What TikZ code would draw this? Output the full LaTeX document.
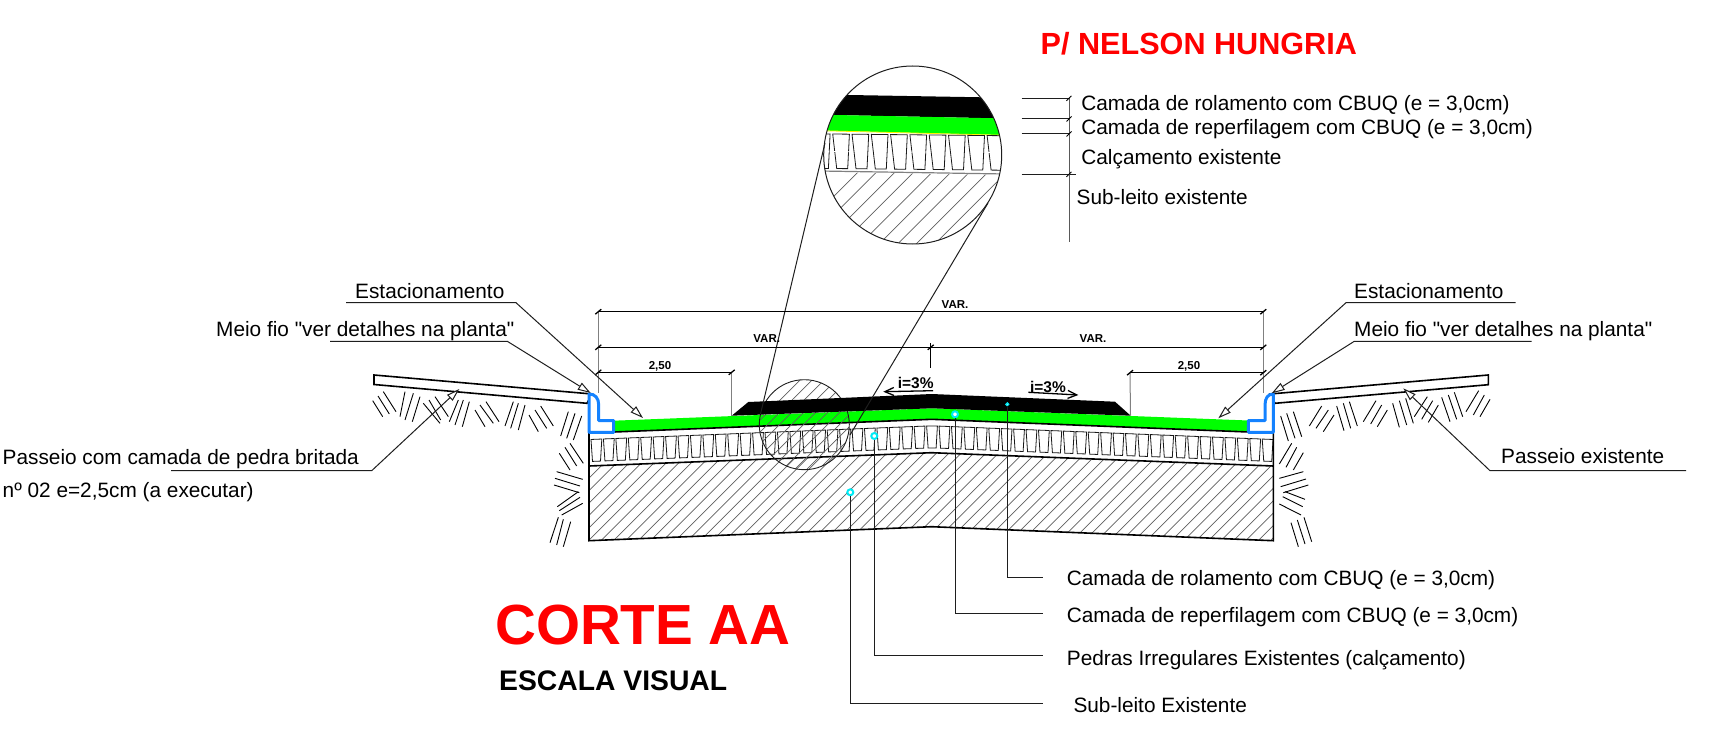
\documentclass[tikz,border=0pt]{standalone}
\usepackage{fontspec}
\setmainfont{Liberation Sans}
\newfontfamily\plainsans{Liberation Sans}
\usetikzlibrary{arrows.meta}
\definecolor{roadgreen}{RGB}{0,255,0}
\definecolor{curbblue}{RGB}{20,130,255}
\definecolor{hatchgray}{RGB}{95,95,95}
\definecolor{leadgray}{RGB}{30,30,30}
\definecolor{ringcyan}{RGB}{0,235,245}
\tikzset{
  declare function={roady(\t)=419.3+abs(\t-931.7)*0.0401;},
  lab/.style={anchor=base west,inner sep=0pt,yshift=-0.6pt,font=\plainsans\fontsize{20.8}{21}\selectfont},
  dimlab/.style={anchor=base,inner sep=0pt,font=\bfseries\fontsize{11.5}{12}\selectfont},
  slopelab/.style={anchor=base,inner sep=0pt,font=\bfseries\fontsize{15.5}{15}\selectfont},
  hatchline/.style={draw=hatchgray,line width=0.7pt},
  soil/.style={draw=black,line width=0.9pt},
  heavy/.style={draw=black,line width=1.6pt},
  lead/.style={draw=leadgray,line width=1pt},
  leadarrow/.style={lead,-{Triangle[open,length=13pt,width=8pt,fill=white]}},
  dimline/.style={draw=black,line width=1.4pt},
  extline/.style={draw=gray,line width=1pt},
  paver/.style={draw=black!90,line width=0.8pt},
  curb/.style={draw=curbblue,line width=3pt,fill=white,line join=round},
  slopearrow/.style={draw=black,line width=1.3pt,-{Straight Barb[length=9pt,width=8pt]}},
  target/.style={draw=ringcyan,line width=2pt,fill=white,circle,inner sep=0pt,minimum size=6pt},
  targetsmall/.style={draw=ringcyan,line width=1.2pt,fill=white,circle,inner sep=0pt,minimum size=3pt},
}
\newcommand{\dimtick}[2]{\draw[line width=1.3pt] ({#1-3},{#2+2.5}) -- ({#1+3},{#2-2.5});}
\begin{document}
\begin{tikzpicture}[x=1pt,y=-1pt]
\useasboundingbox (0,0) rectangle (1719,741);
% footpaths
\draw[heavy,line join=miter] (374,375) -- (592,394) -- (587,403.3) -- (374,384.5) -- cycle;
\draw[heavy,line join=miter] (1488.3,375) -- (1270,394) -- (1275,403.3) -- (1488.3,384.7) -- cycle;
% soil hatching, left
\foreach \a/\b/\c/\d in {68/122/98/170,84/108/118/162,100/95/138/155,
 165/95/150/170,190/100/165/180,210/110/187/185,
 220/130/270/190,237/120/272/180,255/110/295/170,
 325/120/298/185,340/120/315/195,358/125/337/200,
 375/150/405/200,390/135/430/190,408/125/447/185,
 490/125/465/198,505/130/482/205,525/135/505/210,
 537/165/565/215,555/150/590/205,572/138/610/198,
 655/155/632/228,675/160/650/235,695/168/670/240,
 628/280/660/330,645/262/680/318,660/250/700/310,
 620/335/698/358,615/355/690/378,612/375/688/398,
 622/440/685/395,628/452/690/412,635/465/698/430,
 625/472/600/548,640/478/620/555,662/485/640/560}
  \draw[soil] ({350+\a/3},{360+\b/3}) -- ({350+\c/3},{360+\d/3});
% soil hatching, right
\foreach \a/\b/\c/\d in {122/168/145/243,140/160/165/235,160/155/185/230,
 155/250/118/312,170/262/138/322,190/278/160/330,
 118/355/190/335,122/380/198/357,130/398/205/375,
 135/395/195/418,128/410/188/440,118/432/183/465,
 153/488/175/560,172/480/195/552,192/472/215/545,
 245/138/208/198,265/150/228/205,282/165/250/215,
 290/138/312/212,310/130/332/205,328/125/352/198,
 408/122/370/185,425/135/392/192,442/150/412/200,
 458/130/478/202,478/122/500/195,497/115/520/190,
 562/110/523/170,578/122/545/178,595/135/565/187,
 605/112/630/185,625/105/650/178,643/97/668/170,
 716/92/678/155,733/105/700/165,750/118/720/170}
  \draw[soil] ({1240+\a/3},{360+\b/3}) -- ({1240+\c/3},{360+\d/3});
% sub-grade hatching
\begin{scope}
  \clip (589,466) -- (931.7,452.7) -- (1273.3,466) -- (1273.3,540.7) -- (931.7,526.7) -- (589,540.7) -- cycle;
  \foreach \k in {0,...,72}
    \draw[hatchline] ({470+12.4*\k},560) -- ++(140,-140);
\end{scope}
% green layer
\fill[roadgreen] (613.7,420.7) -- (931.7,408.3) -- (1248.3,420.5) -- (1248.3,432) -- (931.7,419.3) -- (613.7,432) -- cycle;
\draw[heavy] (589,433) -- (931.7,419.3) -- (1273.3,433);
% pavers
\foreach \k in {0,...,54}{
  \pgfmathsetmacro{\xa}{591+12.43*\k}
  \pgfmathsetmacro{\xb}{\xa+10.8}
  \pgfmathsetmacro{\xc}{\xa+9.5}
  \pgfmathsetmacro{\xd}{\xa+1.5}
  \draw[paver] (\xa,{roady(\xa)+6.5}) -- (\xb,{roady(\xb)+6.5}) -- (\xc,{roady(\xc)+28.5}) -- (\xd,{roady(\xd)+28.5}) -- cycle;
}
% sub-grade outline
\draw[heavy] (589,466) -- (931.7,452.7) -- (1273.3,466);
\draw[heavy,line join=miter] (589,433) -- (589,540.7) -- (931.7,526.7) -- (1273.3,540.7) -- (1273.3,433);
% detail circle on section
\begin{scope}
  \clip (804.3,424.7) circle (45);
  \foreach \k in {0,...,14}
    \draw[hatchline] ({680+12*\k},500) -- ++(140,-140);
\end{scope}
\draw[draw=leadgray,line width=0.9pt] (804.3,424.7) circle (45);
% black layer
\fill[black] (731.7,415.7) -- (748.3,402) -- (931.7,394) -- (1115,401.7) -- (1130.7,415.7) -- (931.7,408.3) -- cycle;
% curbs
\draw[curb] (589,432.3) -- (589,394) .. controls (595,394) and (598.7,398) .. (598.7,405) -- (598.7,420.7) -- (613.7,420.7) -- (613.7,432.3) -- cycle;
\draw[curb] (1273.3,432.3) -- (1273.3,394) .. controls (1268,394) and (1265,398) .. (1265,405) -- (1265,420.5) -- (1248.3,420.5) -- (1248.3,432.3) -- cycle;
% enlarged circle
\begin{scope}
  \clip (912.7,155) circle (89);
  \fill[black] (820,94.5) -- (1005,97.7) -- (1005,118.5) -- (820,114.7) -- cycle;
  \fill[roadgreen] (820,114.7) -- (1005,118.5) -- (1005,135.1) -- (820,130.5) -- cycle;
  \draw[draw=yellow,line width=0.8pt] (820,130.7) -- (1005,135.3);
  \foreach \k in {0,...,18}
    \draw[hatchline] ({760+18.6*\k},270) -- ++(110,-110);
  \fill[white] (820,172) -- (1005,175) -- (1005,150) -- (820,150) -- cycle;
  \foreach \k in {-1,...,9}{
    \pgfmathsetmacro{\xa}{832.7+19.3*\k}
    \pgfmathsetmacro{\xb}{\xa+16.7}
    \pgfmathsetmacro{\xc}{\xa+15}
    \pgfmathsetmacro{\xd}{\xa+4}
    \draw[paver] (\xa,{134+0.01*(\xa-832)}) -- (\xb,{134+0.01*(\xb-832)}) -- (\xc,{168.5+0.01*(\xc-832)}) -- (\xd,{168.5+0.01*(\xd-832)}) -- cycle;
  }
  \draw[draw=white,line width=0.8pt,dash pattern=on 2pt off 5pt] (820,151.5) -- (1005,152.5);
  \draw[draw=gray,line width=1.2pt] (820,171) -- (1005,174);
\end{scope}
\draw[draw=leadgray,line width=1pt] (912.7,155) circle (89);
% tangent lines between the circles
\coordinate (bigL) at (825,143);
\coordinate (smallL) at (760.5,414);
\coordinate (bigR) at (988,203);
\coordinate (smallR) at (850,435);
\draw[lead] (bigL) -- (smallL);
\draw[lead] (bigR) -- (smallR);
% layer key by the enlarged circle
\coordinate (keyA) at (1021.7,98.3);
\coordinate (keyAe) at (1069,98.3);
\coordinate (keyB) at (1021.7,119);
\coordinate (keyBe) at (1069,119);
\coordinate (keyC) at (1021.7,134);
\coordinate (keyCe) at (1069,134);
\coordinate (keyD) at (1021.7,174.3);
\coordinate (keyDe) at (1076,174.3);
\coordinate (keyEnd) at (1069,241.7);
\draw[lead] (keyA) -- (keyAe);
\draw[lead] (keyB) -- (keyBe);
\draw[lead] (keyC) -- (keyCe);
\draw[lead] (keyD) -- (keyDe);
\draw[draw=gray!70!black,line width=1pt] (keyAe) -- (keyEnd);
\foreach \y in {98.3,119,134,174.3}
  \draw[line width=0.8pt] (1066.5,{\y+2.5}) -- (1071.5,{\y-2.5});
\node[lab] (tA) at (1081.2,110) {Camada de rolamento com CBUQ (e = 3,0cm)};
\node[lab] (tB) at (1081.2,133.5) {Camada de reperfilagem com CBUQ (e = 3,0cm)};
\node[lab] (tC) at (1081.2,164) {Calçamento existente};
\node[lab] (tD) at (1076.5,203.5) {Sub-leito existente};
\node[anchor=base west,inner sep=0pt,text=red,font=\bfseries\fontsize{30.6}{31}\selectfont] (title) at (1040.5,55) {P/ NELSON HUNGRIA};
% dimensions
\coordinate (d1L) at (598.3,311.7);
\coordinate (d1R) at (1263.3,311.7);
\coordinate (d2L) at (598.3,347.3);
\coordinate (d2R) at (1263.3,347.3);
\coordinate (d3L) at (598.3,372.3);
\coordinate (d3M) at (731.7,372.3);
\coordinate (d3N) at (1130,372.7);
\coordinate (d3R) at (1263.3,372.7);
\coordinate (e1) at (598.3,393);
\coordinate (e2) at (1263.3,393);
\coordinate (e3) at (731.7,415.5);
\coordinate (e4) at (1130.5,415.5);
\draw[extline] (d1L) -- (e1);
\draw[extline] (d1R) -- (e2);
\draw[extline] (d3M) -- (e3);
\draw[extline] (d3N) -- (e4);
\draw[dimline] (d1L) -- (d1R);
\draw[dimline] (d2L) -- (d2R);
\draw[dimline] (d3L) -- (d3M);
\draw[dimline] (d3N) -- (d3R);
\dimtick{598.3}{311.7}
\dimtick{1263.3}{311.7}
\dimtick{598.3}{347.3}
\dimtick{1263.3}{347.3}
\dimtick{598.3}{372.3}
\dimtick{731.7}{372.3}
\dimtick{1130}{372.7}
\dimtick{1263.3}{372.7}
\dimtick{930.7}{347.3}
\coordinate (midA) at (930.7,343);
\coordinate (midB) at (930.7,368);
\draw[dimline] (midA) -- (midB);
\node[dimlab] (v1) at (955,308) {VAR.};
\node[dimlab] (v2) at (766.7,342) {VAR.};
\node[dimlab] (v3) at (1093,342) {VAR.};
\node[dimlab] (w1) at (660,369.5) {2,50};
\node[dimlab] (w2) at (1189,369.5) {2,50};
% slopes
\node[slopelab] (s1) at (915.7,388) {i=3\%};
\node[slopelab] (s2) at (1048,392) {i=3\%};
\coordinate (s1a) at (933,390.7);
\coordinate (s1b) at (883.3,391.7);
\coordinate (s2a) at (1028.3,392.3);
\coordinate (s2b) at (1078.3,395);
\draw[slopearrow] (s1a) -- (s1b);
\draw[slopearrow] (s2a) -- (s2b);
% left labels
\node[lab] (estL) at (355,297.5) {Estacionamento};
\coordinate (estLa) at (346,302.7);
\coordinate (estLb) at (516,302.7);
\coordinate (estLc) at (643,418);
\draw[leadarrow] (estLa) -- (estLb) -- (estLc);
\node[lab] (meioL) at (216,336) {Meio fio "ver detalhes na planta"};
\coordinate (meioLa) at (330,341.3);
\coordinate (meioLb) at (507.3,341.3);
\coordinate (meioLc) at (590.7,393);
\draw[leadarrow] (meioLa) -- (meioLb) -- (meioLc);
\node[lab] (pasA) at (2.5,463.5) {Passeio com camada de pedra britada};
\node[lab] (pasB) at (2.5,496.8) {nº 02 e=2,5cm (a executar)};
\coordinate (pasa) at (171,470.7);
\coordinate (pasb) at (371.7,470.7);
\coordinate (pasc) at (459.3,389);
\draw[leadarrow] (pasa) -- (pasb) -- (pasc);
% right labels
\node[lab] (estR) at (1354,297.5) {Estacionamento};
\coordinate (estRa) at (1515.7,302.7);
\coordinate (estRb) at (1346,302.7);
\coordinate (estRc) at (1218.3,418.3);
\draw[leadarrow] (estRa) -- (estRb) -- (estRc);
\node[lab] (meioR) at (1354,336) {Meio fio "ver detalhes na planta"};
\coordinate (meioRa) at (1531.7,341.3);
\coordinate (meioRb) at (1354.3,341.3);
\coordinate (meioRc) at (1271.7,393.3);
\draw[leadarrow] (meioRa) -- (meioRb) -- (meioRc);
\node[lab] (pasR) at (1501,462.5) {Passeio existente};
\coordinate (pasRa) at (1686,470.7);
\coordinate (pasRb) at (1490,470.7);
\coordinate (pasRc) at (1403.3,388.3);
\draw[leadarrow] (pasRa) -- (pasRb) -- (pasRc);
% bottom call-outs
\node[target] (p1) at (850.3,492.3) {};
\node[target] (p2) at (874.3,436) {};
\node[target] (p3) at (955,414.3) {};
\node[targetsmall] (p4) at (1007.3,404.3) {};
\coordinate (q1) at (1042.6,703.3);
\coordinate (q2) at (1042.6,655.7);
\coordinate (q3) at (1042.6,613.3);
\coordinate (q4) at (1042.6,577.5);
\draw[lead] (p1) |- (q1);
\draw[lead] (p2) |- (q2);
\draw[lead] (p3) |- (q3);
\draw[lead] (p4) |- (q4);
\node[lab] (b4) at (1066.7,585) {Camada de rolamento com CBUQ (e = 3,0cm)};
\node[lab] (b3) at (1066.7,621.8) {Camada de reperfilagem com CBUQ (e = 3,0cm)};
\node[lab] (b2) at (1066.7,664.5) {Pedras Irregulares Existentes (calçamento)};
\node[lab] (b1) at (1073.3,711.8) {Sub-leito Existente};
% titles
\node[anchor=base west,inner sep=0pt,text=red,font=\bfseries\fontsize{56.6}{57}\selectfont] (corte) at (495,644.5) {CORTE AA};
\node[anchor=base west,inner sep=0pt,font=\bfseries\fontsize{28.3}{29}\selectfont] (escala) at (499,690) {ESCALA VISUAL};
\end{tikzpicture}
\end{document}
